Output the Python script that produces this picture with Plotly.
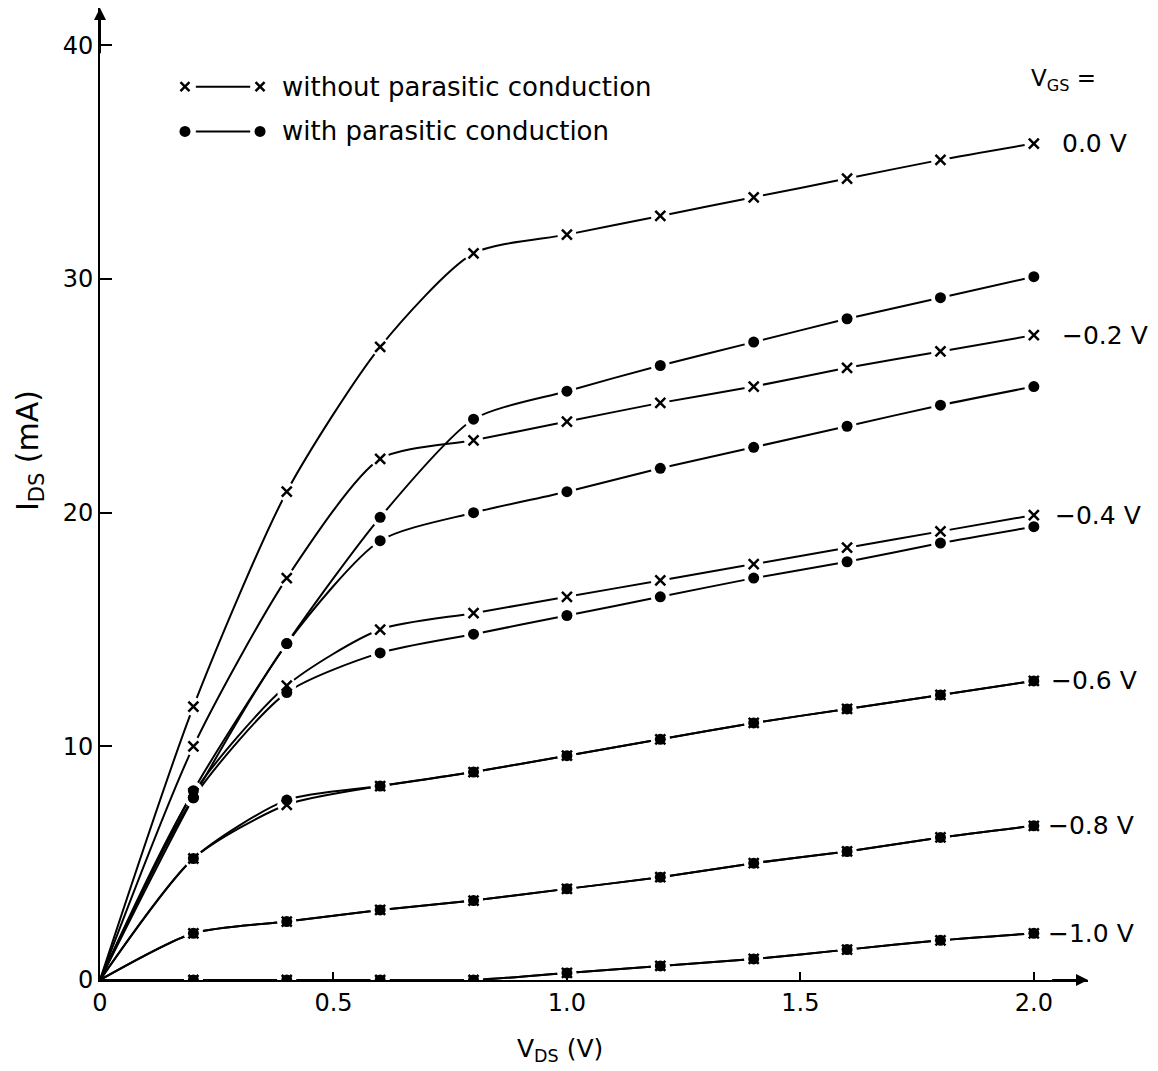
import plotly.graph_objects as go

# Drain-source voltage (V)
VDS = [0.0, 0.2, 0.4, 0.6, 0.8, 1.0, 1.2, 1.4, 1.6, 1.8, 2.0]

# Drain current I_DS (mA) without parasitic conduction, per gate voltage
ids_no_00 = [0, 11.7, 20.9, 27.1, 31.1, 31.9, 32.7, 33.5, 34.3, 35.1, 35.8]
ids_no_02 = [0, 10.0, 17.2, 22.3, 23.1, 23.9, 24.7, 25.4, 26.2, 26.9, 27.6]
ids_no_04 = [0, 8.0, 12.6, 15.0, 15.7, 16.4, 17.1, 17.8, 18.5, 19.2, 19.9]
ids_no_06 = [0, 5.2, 7.5, 8.3, 8.9, 9.6, 10.3, 11.0, 11.6, 12.2, 12.8]
ids_no_08 = [0, 2.0, 2.5, 3.0, 3.4, 3.9, 4.4, 5.0, 5.5, 6.1, 6.6]
ids_no_10 = [0, 0.0, 0.0, 0.0, 0.0, 0.3, 0.6, 0.9, 1.3, 1.7, 2.0]

# Drain current I_DS (mA) with parasitic conduction
ids_pc_00 = [0, 8.1, 14.4, 19.8, 24.0, 25.2, 26.3, 27.3, 28.3, 29.2, 30.1]
ids_pc_02 = [0, 7.8, 14.4, 18.8, 20.0, 20.9, 21.9, 22.8, 23.7, 24.6, 25.4]
ids_pc_04 = [0, 7.8, 12.3, 14.0, 14.8, 15.6, 16.4, 17.2, 17.9, 18.7, 19.4]
ids_pc_06 = [0, 5.2, 7.7, 8.3, 8.9, 9.6, 10.3, 11.0, 11.6, 12.2, 12.8]
ids_pc_08 = [0, 2.0, 2.5, 3.0, 3.4, 3.9, 4.4, 5.0, 5.5, 6.1, 6.6]
ids_pc_10 = [0, 0.0, 0.0, 0.0, 0.0, 0.3, 0.6, 0.9, 1.3, 1.7, 2.0]

VGS_LABELS = ["0.0 V", "\u22120.2 V", "\u22120.4 V", "\u22120.6 V", "\u22120.8 V", "\u22121.0 V"]
without_pc = [ids_no_00, ids_no_02, ids_no_04, ids_no_06, ids_no_08, ids_no_10]
with_pc = [ids_pc_00, ids_pc_02, ids_pc_04, ids_pc_06, ids_pc_08, ids_pc_10]

X_TICKS = [0, 0.5, 1.0, 1.5, 2.0]
X_TICKTEXT = ["0", "0.5", "1.0", "1.5", "2.0"]
Y_TICKS = [0, 10, 20, 30, 40]

FONT = "DejaVu Sans"
INK = "black"
X_MAX, Y_MAX = 2.116, 41.6

fig = go.Figure()
all_series = [(s, "x") for s in without_pc] + [(s, "o") for s in with_pc]

# curves
for ys, _ in all_series:
    fig.add_trace(go.Scatter(
        x=VDS, y=ys, mode="lines",
        line=dict(color=INK, width=2, shape="spline", smoothing=0.7),
        hoverinfo="skip", showlegend=False))

# small white halos so the pen line breaks around each plotted point
for ys, _ in all_series:
    fig.add_trace(go.Scatter(
        x=VDS[1:], y=ys[1:], mode="markers",
        marker=dict(symbol="circle", size=19, color="white"),
        hoverinfo="skip", showlegend=False))

# point markers: crosses first, dots on top
for ys, kind in all_series:
    if kind == "x":
        mk = dict(symbol="x-thin", size=10, line=dict(color=INK, width=2.5))
    else:
        mk = dict(symbol="circle", size=11, color=INK)
    fig.add_trace(go.Scatter(
        x=VDS[1:], y=ys[1:], mode="markers", marker=mk,
        hoverinfo="skip", showlegend=False))

# legend keys on an overlay axis spanning the plot area (0..1)
key_x_line = [0.097, 0.152]
key_x_pts = [0.086, 0.162]
key_rows = [(0.919, "x", "without parasitic conduction"),
            (0.873, "o", "with parasitic conduction")]
for ky, kind, label in key_rows:
    fig.add_trace(go.Scatter(
        x=key_x_line, y=[ky, ky], mode="lines", xaxis="x2", yaxis="y2",
        line=dict(color=INK, width=2), hoverinfo="skip", showlegend=False))
    if kind == "x":
        mk = dict(symbol="x-thin", size=9, line=dict(color=INK, width=2.5))
    else:
        mk = dict(symbol="circle", size=11, color=INK)
    fig.add_trace(go.Scatter(
        x=key_x_pts, y=[ky, ky], mode="markers", xaxis="x2", yaxis="y2",
        marker=mk, hoverinfo="skip", showlegend=False))

annotations = []
for ky, kind, label in key_rows:
    annotations.append(dict(
        xref="paper", yref="paper", x=0.182, y=ky, xanchor="left", yanchor="middle",
        text=label, showarrow=False, font=dict(family=FONT, size=26, color=INK)))

# gate voltage labels at the right-hand end of each curve family
label_x = [2.055, 2.055, 2.04, 2.033, 2.025, 2.025]
for lx, txt, ys in zip(label_x, VGS_LABELS, without_pc):
    annotations.append(dict(
        xref="x", yref="y", x=lx, y=ys[-1], xanchor="left", yanchor="middle",
        text=txt, showarrow=False, font=dict(family=FONT, size=25, color=INK)))
annotations.append(dict(
    xref="x", yref="y", x=1.99, y=38.5, xanchor="left", yanchor="middle",
    text="V<sub>GS</sub> =", showarrow=False, font=dict(family=FONT, size=23, color=INK)))

# axis arrowheads
annotations.append(dict(
    xref="x", yref="y", axref="x", ayref="y", x=X_MAX, y=0, ax=X_MAX - 0.08, ay=0,
    text="", showarrow=True, arrowhead=2, arrowsize=1.2, arrowwidth=2, arrowcolor=INK))
annotations.append(dict(
    xref="x", yref="y", axref="x", ayref="y", x=0, y=Y_MAX, ax=0, ay=Y_MAX - 2,
    text="", showarrow=True, arrowhead=2, arrowsize=1.2, arrowwidth=2, arrowcolor=INK))

# axis titles
annotations.append(dict(
    xref="paper", yref="paper", x=0.466, y=-0.072, xanchor="center", yanchor="middle",
    text="V<sub>DS</sub> (V)", showarrow=False, font=dict(family=FONT, size=25, color=INK)))
annotations.append(dict(
    xref="paper", yref="paper", x=-0.072, y=0.545, xanchor="center", yanchor="middle",
    text="I<sub>DS</sub> (mA)", textangle=-90, showarrow=False,
    font=dict(family=FONT, size=30, color=INK)))

fig.update_layout(
    width=1158, height=1071,
    margin=dict(l=100, r=70, t=8, b=91),
    paper_bgcolor="white", plot_bgcolor="white",
    font=dict(family=FONT, color=INK),
    showlegend=False,
    xaxis=dict(
        range=[0, X_MAX], tickvals=X_TICKS, ticktext=X_TICKTEXT,
        ticks="inside", ticklen=8, tickwidth=2, tickcolor=INK,
        showline=True, linecolor=INK, linewidth=2,
        showgrid=False, zeroline=False,
        tickfont=dict(family=FONT, size=24, color=INK)),
    yaxis=dict(
        range=[0, Y_MAX], tickvals=Y_TICKS,
        ticks="inside", ticklen=12, tickwidth=2, tickcolor=INK,
        showline=True, linecolor=INK, linewidth=2,
        showgrid=False, zeroline=False,
        tickfont=dict(family=FONT, size=24, color=INK)),
    xaxis2=dict(overlaying="x", range=[0, 1], visible=False),
    yaxis2=dict(overlaying="y", range=[0, 1], visible=False),
    annotations=annotations,
)

fig.write_html("out.html")
